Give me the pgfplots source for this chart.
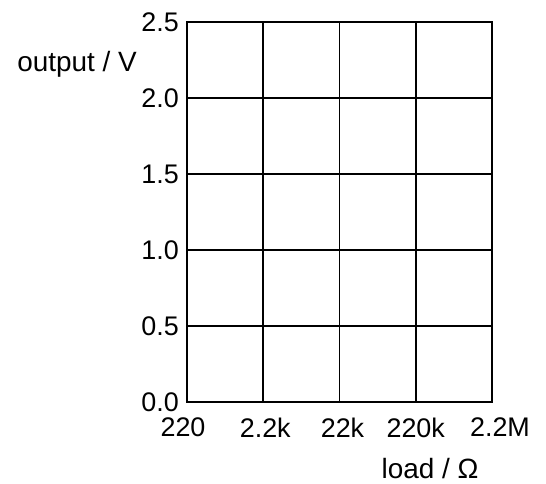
\documentclass[border=0pt]{standalone}
\usepackage{fontspec}
\setmainfont{Liberation Sans}
\usepackage{pgfplots}
\pgfplotsset{compat=1.18}
\begin{document}
\begin{tikzpicture}
\path[use as bounding box] (0,0) rectangle (546bp,-484bp);
\begin{axis}[
  at={(187bp,-402bp)}, anchor=south west,
  width=305bp, height=380bp, scale only axis,
  xmin=0, xmax=4, ymin=0, ymax=2.5,
  xtick={0,1,2,3,4},
  xticklabels={220\hspace*{8bp},\hspace*{4bp}2.2k,\hspace*{6bp}22k,220k,\hspace*{16bp}\raisebox{3bp}{2.2M}},
  ytick={0,0.5,1,1.5,2,2.5},
  /pgf/number format/fixed,
  /pgf/number format/fixed zerofill,
  /pgf/number format/precision=1,
  /pgf/number format/assume math mode=true,
  major tick length=0pt,
  grid=major,
  grid style={black, line width=1.8bp},
  axis line style={black, line width=1.9bp},
  tick label style={font=\fontsize{27}{32}\selectfont, text=black, inner sep=0pt},
  xticklabel style={anchor=north, yshift=-16bp},
  yticklabel style={anchor=east, xshift=-8bp},
  xlabel={load / Ω},
  ylabel={output / V},
  every axis x label/.style={at={(axis description cs:0.797,-0.176)}, anchor=center, font=\fontsize{28}{33}\selectfont, text=black, inner sep=0pt},
  every axis y label/.style={at={(axis description cs:-0.164,0.889)}, anchor=east, font=\fontsize{28}{33}\selectfont, text=black, inner sep=0pt},
]
\addplot[draw=none] coordinates {(0,0) (4,2.5)};
\end{axis}
\end{tikzpicture}
\end{document}
